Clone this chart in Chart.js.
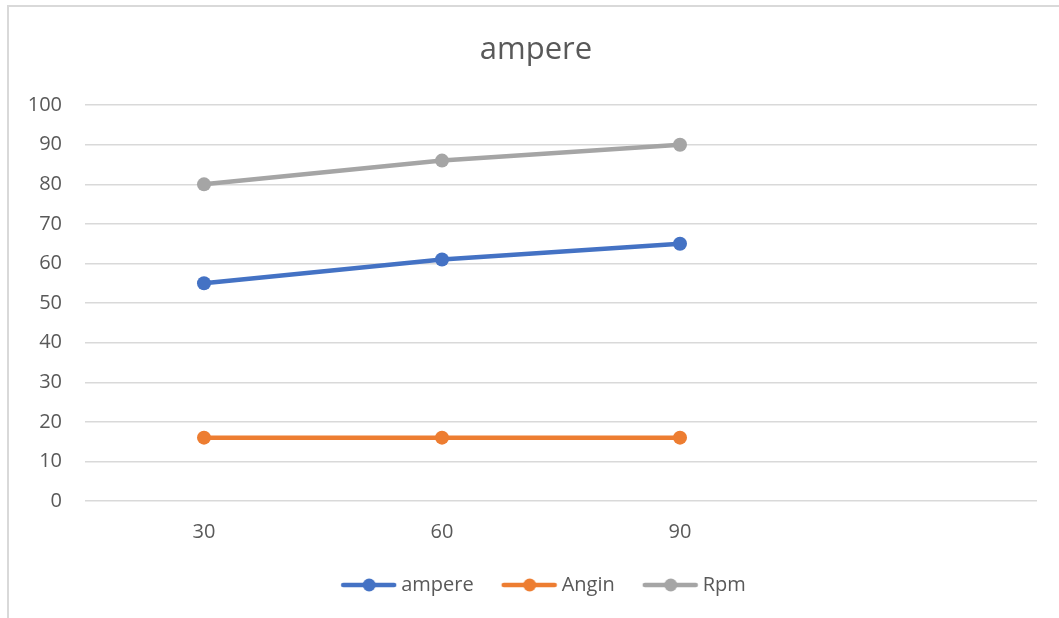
<!DOCTYPE html>
<html>
<head>
<meta charset="utf-8">
<script src="https://cdn.jsdelivr.net/npm/chart.js@4/dist/chart.umd.min.js"></script>
<style>
  html, body { margin: 0; padding: 0; background: #ffffff; }
  #wrap { position: relative; width: 1059px; height: 618px; }
</style>
</head>
<body>
<div id="wrap"><canvas id="chart" width="1059" height="618"></canvas></div>
<script>
// Categories (the last slot is an empty category)
const categories = ['30', '60', '90', ''];

// Series values
const ampereValues = [55, 61, 65];
const anginValues = [16, 16, 16];
const rpmValues = [80, 86, 90];

// Y axis range
const yMin = 0;
const yMax = 100;
const yStep = 10;

const seriesNames = ['ampere', 'Angin', 'Rpm'];
const seriesColors = ['#4472C4', '#ED7D31', '#A5A5A5'];

const textColor = '#595959';
const gridColor = '#D9D9D9';
const fontFamily = "'Open Sans', 'Noto Sans', sans-serif";

// Legend symbol: a short line with a dot in its middle
function legendSymbol(color) {
  const c = document.createElement('canvas');
  c.width = 77; c.height = 16;
  const g = c.getContext('2d');
  g.strokeStyle = color;
  g.lineWidth = 4.5;
  g.lineCap = 'round';
  g.beginPath();
  g.moveTo(23, 8);
  g.lineTo(74, 8);
  g.stroke();
  g.fillStyle = color;
  g.beginPath();
  g.arc(49, 8, 6.5, 0, Math.PI * 2);
  g.fill();
  return c;
}
const symbols = seriesColors.map(legendSymbol);

// Outer frame of the chart area
const framePlugin = {
  id: 'frame',
  beforeDraw(chart) {
    const ctx = chart.ctx;
    ctx.save();
    ctx.strokeStyle = '#D9D9D9';
    ctx.lineWidth = 2;
    ctx.beginPath();
    ctx.moveTo(8, chart.height);
    ctx.lineTo(8, 6);
    ctx.lineTo(chart.width, 6);
    ctx.stroke();
    ctx.restore();
  }
};

function makeDataset(label, values, color) {
  return {
    label: label,
    data: values,
    yAxisID: 'y',
    borderColor: color,
    backgroundColor: color,
    borderWidth: 4.5,
    pointRadius: 7,
    pointHoverRadius: 7,
    pointBackgroundColor: color,
    pointBorderColor: color,
    pointBorderWidth: 0,
    tension: 0,
    fill: false
  };
}

new Chart(document.getElementById('chart'), {
  type: 'line',
  data: {
    labels: categories,
    datasets: [
      makeDataset(seriesNames[0], ampereValues, seriesColors[0]),
      makeDataset(seriesNames[1], anginValues, seriesColors[1]),
      makeDataset(seriesNames[2], rpmValues, seriesColors[2])
    ]
  },
  options: {
    responsive: false,
    animation: false,
    devicePixelRatio: 1,
    layout: { padding: { top: 0, left: 25, right: 12, bottom: 13 } },
    plugins: {
      title: {
        display: true,
        text: 'ampere',
        color: textColor,
        font: { family: fontFamily, size: 31, weight: 'normal' },
        padding: { top: 32, bottom: 36 }
      },
      legend: {
        display: true,
        position: 'bottom',
        labels: {
          color: textColor,
          font: { family: fontFamily, size: 20 },
          usePointStyle: true,
          pointStyleWidth: 65,
          padding: 13,
          generateLabels(chart) {
            const items = Chart.defaults.plugins.legend.labels.generateLabels(chart);
            items.forEach((it, i) => { it.pointStyle = symbols[i]; });
            return items;
          }
        }
      },
      tooltip: { enabled: false }
    },
    scales: {
      x: {
        type: 'category',
        offset: true,
        grid: { display: false, drawTicks: false },
        border: { display: false },
        ticks: {
          color: textColor,
          font: { family: fontFamily, size: 20 },
          padding: 19,
          maxRotation: 0,
          autoSkip: false
        },
        afterFit(scale) { scale.height = 61; }
      },
      y: {
        min: yMin,
        max: yMax,
        position: 'left',
        grid: { color: gridColor, lineWidth: 1.5, drawTicks: false },
        border: { display: false },
        ticks: {
          stepSize: yStep,
          color: textColor,
          font: { family: fontFamily, size: 20 },
          padding: 23
        },
        afterFit(scale) { scale.width = 60; }
      },
      // empty margin strip on the right side of the plot
      yPad: {
        position: 'right',
        grid: { display: false, drawTicks: false },
        border: { display: false },
        ticks: { display: false },
        afterFit(scale) { scale.width = 10; }
      }
    }
  },
  plugins: [framePlugin]
});
</script>
</body>
</html>
